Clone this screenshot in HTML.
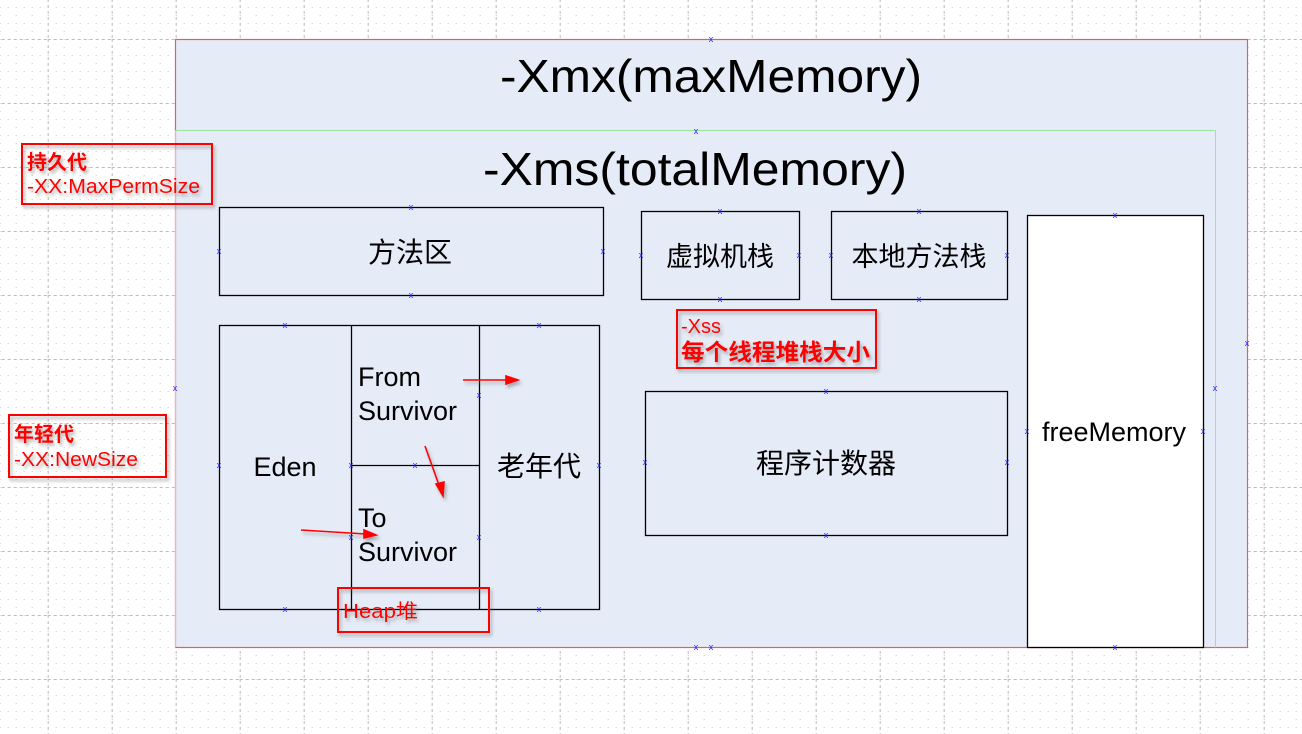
<!DOCTYPE html>
<html><head><meta charset="utf-8"><style>
html,body{margin:0;padding:0;background:#fff;}
svg{display:block;}
text{font-family:"Liberation Sans","Noto Sans CJK SC",sans-serif;}
</style></head><body>
<svg width="1302" height="734" xmlns="http://www.w3.org/2000/svg">
<defs>
<pattern id="minor" x="15.7" y="7" width="16" height="16" patternUnits="userSpaceOnUse">
<rect x="0" y="0" width="1" height="1" fill="#c8c8c8"/>
<rect x="0" y="8" width="1" height="1" fill="#c8c8c8"/>
<rect x="8" y="0" width="1" height="1" fill="#c8c8c8"/>
</pattern>
<pattern id="major" x="47.7" y="39" width="64" height="64" patternUnits="userSpaceOnUse">
<line x1="0.5" y1="0" x2="0.5" y2="64" stroke="#bbb" stroke-dasharray="3,3"/>
<line x1="0" y1="0.5" x2="64" y2="0.5" stroke="#bbb" stroke-dasharray="3,3"/>
</pattern>
<filter id="sh" x="-10%" y="-10%" width="130%" height="140%"><feDropShadow dx="2" dy="3" stdDeviation="1.5" flood-color="#666" flood-opacity="0.5"/></filter>
</defs>
<rect width="1302" height="734" fill="url(#minor)"/>
<rect width="1302" height="734" fill="url(#major)"/>

<rect x="175.5" y="39.5" width="1072" height="608" fill="#e6ecf7" stroke="#e06060" stroke-width="1.2"/>
<line x1="175.5" y1="130.5" x2="1215.5" y2="130.5" stroke="#9de39d"/>
<line x1="1215.5" y1="130.5" x2="1215.5" y2="647.5" stroke="#9de39d"/>
<line x1="175.5" y1="130.5" x2="175.5" y2="647.5" stroke="#9de39d"/>

<text x="500" y="92" font-size="46" textLength="422" lengthAdjust="spacingAndGlyphs">-Xmx(maxMemory)</text>
<text x="483" y="185" font-size="46" textLength="424" lengthAdjust="spacingAndGlyphs">-Xms(totalMemory)</text>

<g fill="none" stroke="#000" stroke-width="1.3">
<rect x="219.5" y="207.5" width="384" height="88"/>
<rect x="641.5" y="211.5" width="158" height="88"/>
<rect x="831.5" y="211.5" width="176" height="88"/>
<rect x="219.5" y="325.5" width="380" height="284"/>
<line x1="351.5" y1="325" x2="351.5" y2="609"/>
<line x1="479.5" y1="325" x2="479.5" y2="609"/>
<line x1="351" y1="465.5" x2="480" y2="465.5"/>
<rect x="645.5" y="391.5" width="362" height="144"/>
</g>
<rect x="1027.5" y="215.5" width="176" height="432" fill="#fff" stroke="#000" stroke-width="1.3"/>

<g font-size="27" fill="#000">
<text x="410" y="262" text-anchor="middle" font-size="28">方法区</text>
<text x="720" y="266" text-anchor="middle" font-size="27">虚拟机栈</text>
<text x="919" y="266" text-anchor="middle" font-size="27">本地方法栈</text>
<text x="285" y="476" text-anchor="middle">Eden</text>
<text x="358" y="386">From</text>
<text x="358" y="420">Survivor</text>
<text x="358" y="527">To</text>
<text x="358" y="561">Survivor</text>
<text x="539" y="476" text-anchor="middle" font-size="28">老年代</text>
<text x="826" y="473" text-anchor="middle" font-size="28">程序计数器</text>
<text x="1114" y="441" text-anchor="middle">freeMemory</text>
</g>

<g stroke="#f00" stroke-width="1.6" fill="#f00" filter="url(#sh)">
<line x1="463" y1="380" x2="508" y2="380"/><polygon points="518,380 506,376 506,384"/>
<line x1="425" y1="446" x2="440" y2="488"/><polygon points="443,496 436,484 444,482"/>
<line x1="301" y1="530" x2="366" y2="534"/><polygon points="376,535 364,530 364,538"/>
</g>

<g fill="none" stroke="#f00" stroke-width="2" filter="url(#sh)">
<rect x="22" y="144" width="190" height="60"/>
<rect x="9" y="415" width="157" height="62"/>
<rect x="677" y="310" width="199" height="58"/>
<rect x="338" y="588" width="151" height="44"/>
</g>
<g fill="#f00" font-size="20" filter="url(#sh)">
<text x="27" y="169" font-weight="bold">持久代</text>
<text x="27" y="193" textLength="173" lengthAdjust="spacingAndGlyphs">-XX:MaxPermSize</text>
<text x="14" y="441" font-weight="bold">年轻代</text>
<text x="14" y="466" textLength="124" lengthAdjust="spacingAndGlyphs">-XX:NewSize</text>
<text x="681" y="333">-Xss</text>
<text x="681" y="360" font-weight="bold" font-size="23" textLength="189" lengthAdjust="spacingAndGlyphs">每个线程堆栈大小</text>
<text x="343" y="618" textLength="75" lengthAdjust="spacingAndGlyphs">Heap堆</text>
</g>

<g fill="#22f" font-size="9" text-anchor="middle">
<text x="711" y="42">x</text><text x="696" y="134">x</text>
<text x="411" y="210">x</text><text x="411" y="298">x</text><text x="219" y="254">x</text><text x="603" y="254">x</text>
<text x="720" y="214">x</text><text x="720" y="302">x</text><text x="641" y="258">x</text><text x="799" y="258">x</text>
<text x="919" y="214">x</text><text x="919" y="302">x</text><text x="831" y="258">x</text><text x="1007" y="258">x</text>
<text x="285" y="328">x</text><text x="539" y="328">x</text><text x="285" y="612">x</text><text x="539" y="612">x</text>
<text x="219" y="468">x</text><text x="599" y="468">x</text><text x="415" y="468">x</text><text x="351" y="468">x</text>
<text x="479" y="398">x</text><text x="479" y="540">x</text><text x="351" y="540">x</text>
<text x="826" y="394">x</text><text x="826" y="538">x</text><text x="645" y="465">x</text><text x="1007" y="465">x</text>
<text x="1115" y="218">x</text><text x="1115" y="650">x</text><text x="1027" y="434">x</text><text x="1203" y="434">x</text>
<text x="175" y="391">x</text><text x="1215" y="391">x</text><text x="1247" y="346">x</text>
<text x="696" y="650">x</text><text x="711" y="650">x</text>
</g>
</svg>
</body></html>
